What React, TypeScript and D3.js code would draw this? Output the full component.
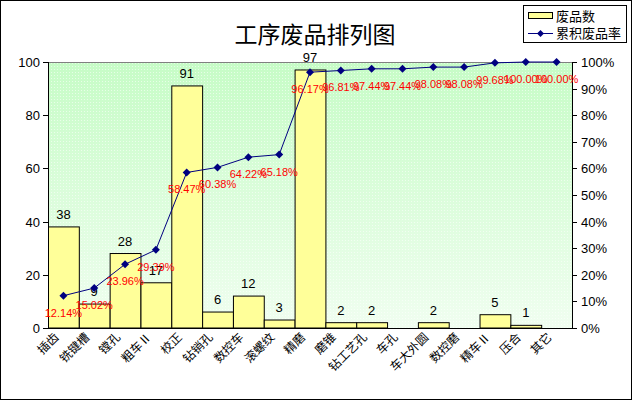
import React from "react";
import * as d3 from "d3";

const categories = ["插齿", "铣键槽", "镗孔", "粗车Ⅱ", "校正", "钻销孔", "数控车", "滚螺纹", "精磨", "磨锥", "钻工艺孔", "车孔", "车大外圆", "数控磨", "精车Ⅱ", "压合", "其它"];
const counts = [38, 9, 28, 17, 91, 6, 12, 3, 97, 2, 2, 0, 2, 0, 5, 1, 0];
const cumRates = [12.14, 15.02, 23.96, 29.39, 58.47, 60.38, 64.22, 65.18, 96.17, 96.81, 97.44, 97.44, 98.08, 98.08, 99.68, 100.0, 100.0];
const leftTicks = [0, 20, 40, 60, 80, 100];
const rightTicks = [0, 10, 20, 30, 40, 50, 60, 70, 80, 90, 100];
const title = "工序废品排列图";
const legendLabels = ["废品数", "累积废品率"];

const W = 632;
const H = 400;
const PL = 48;
const PR = 572;
const PT = 62;
const PB = 328;
const latin = "'Liberation Sans', Arial, sans-serif";
const cjk = "'Noto Sans CJK SC', 'Liberation Sans', sans-serif";

export default function App() {
  const x = d3.scaleBand<string>().domain(categories).range([PL, PR]).padding(0);
  const yL = d3.scaleLinear().domain([0, 100]).range([PB, PT]);
  const yR = d3.scaleLinear().domain([0, 100]).range([PB, PT]);
  const cx = (c: string) => (x(c) as number) + x.bandwidth() / 2;
  const line = d3
    .line<number>()
    .x((_, i) => cx(categories[i]))
    .y((d) => yR(d));
  const diamond = (px: number, py: number, r = 4) =>
    `M${px},${py - r}L${px + r},${py}L${px},${py + r}L${px - r},${py}Z`;

  return (
    <div>
      <style>{`body{margin:0}`}</style>
      <svg width={W} height={H} style={{ display: "block" }}>
        <defs>
          <linearGradient id="bg" x1="0" y1="0" x2="0" y2="1">
            <stop offset="0" stopColor="#c6fcc6" />
            <stop offset="1" stopColor="#f0fef0" />
          </linearGradient>
          <pattern id="dots" width="3" height="3" patternUnits="userSpaceOnUse">
            <rect x="0" y="0" width="1" height="1" fill="#ffffff" opacity="0.55" />
          </pattern>
        </defs>
        <rect x={0.5} y={0.5} width={W - 1} height={H - 1} fill="#ffffff" stroke="#000" />
        {/* plot background */}
        <rect x={PL} y={PT} width={PR - PL} height={PB - PT} fill="url(#bg)" />
        <rect x={PL} y={PT} width={PR - PL} height={PB - PT} fill="url(#dots)" />
        <line x1={PL} x2={PR} y1={PT + 0.5} y2={PT + 0.5} stroke="#808080" />

        {/* title */}
        <text x={315} y={43} textAnchor="middle" fontFamily={cjk} fontSize={23} fill="#000">
          {title}
        </text>

        {/* bars */}
        {categories.map((c, i) =>
          counts[i] > 0 ? (
            <rect
              key={c}
              x={(x(c) as number) + 0.5}
              y={yL(counts[i])}
              width={x.bandwidth()}
              height={PB - yL(counts[i])}
              fill="#ffff99"
              stroke="#000"
              strokeWidth={1}
            />
          ) : null
        )}
        {categories.map((c, i) =>
          counts[i] > 0 ? (
            <text
              key={"v" + c}
              x={cx(c)}
              y={yL(counts[i]) - 8}
              textAnchor="middle"
              fontFamily={latin}
              fontSize={13}
              fill="#000"
            >
              {counts[i]}
            </text>
          ) : null
        )}

        {/* axes */}
        <line x1={PL + 0.5} x2={PL + 0.5} y1={PT} y2={PB} stroke="#000" />
        <line x1={PL} x2={PR} y1={PB + 0.5} y2={PB + 0.5} stroke="#000" />
        <line x1={PR + 0.5} x2={PR + 0.5} y1={PT} y2={PB} stroke="#000" />
        {leftTicks.map((t) => (
          <g key={"l" + t}>
            <line x1={PL - 5} x2={PL} y1={Math.round(yL(t)) + 0.5} y2={Math.round(yL(t)) + 0.5} stroke="#000" />
            <text x={PL - 8} y={yL(t) + 5} textAnchor="end" fontFamily={latin} fontSize={13}>
              {t}
            </text>
          </g>
        ))}
        {rightTicks.map((t) => (
          <g key={"r" + t}>
            <line x1={PR} x2={PR + 5} y1={Math.round(yR(t)) + 0.5} y2={Math.round(yR(t)) + 0.5} stroke="#000" />
            <text x={PR + 9} y={yR(t) + 5} textAnchor="start" fontFamily={latin} fontSize={13}>
              {t}%
            </text>
          </g>
        ))}

        {/* category labels */}
        {categories.map((c) => (
          <text
            key={"c" + c}
            transform={`translate(${cx(c) - 4},${PB + 10}) rotate(-45)`}
            textAnchor="end"
            fontFamily={cjk}
            fontSize={12}
            fill="#000"
          >
            {c}
          </text>
        ))}

        {/* cumulative line */}
        <path d={line(cumRates) as string} fill="none" stroke="#000080" strokeWidth={1} />
        {cumRates.map((r, i) => (
          <path key={"m" + i} d={diamond(cx(categories[i]), yR(r))} fill="#000080" />
        ))}
        {cumRates.map((r, i) => (
          <text
            key={"p" + i}
            x={cx(categories[i])}
            y={yR(r) + 21}
            textAnchor="middle"
            fontFamily={latin}
            fontSize={11}
            fill="#ff0000"
          >
            {r.toFixed(2)}%
          </text>
        ))}

        {/* legend */}
        <rect x={523.5} y={5.5} width={103} height={37} fill="#fff" stroke="#000" />
        <rect x={528.5} y={12.5} width={24} height={6} fill="#ffff99" stroke="#000" />
        <text x={556} y={21} fontFamily={cjk} fontSize={13}>
          {legendLabels[0]}
        </text>
        <line x1={528} x2={553} y1={33.5} y2={33.5} stroke="#000080" />
        <path d={diamond(540.5, 33.5, 3.5)} fill="#000080" />
        <text x={556} y={38} fontFamily={cjk} fontSize={13}>
          {legendLabels[1]}
        </text>
      </svg>
    </div>
  );
}
